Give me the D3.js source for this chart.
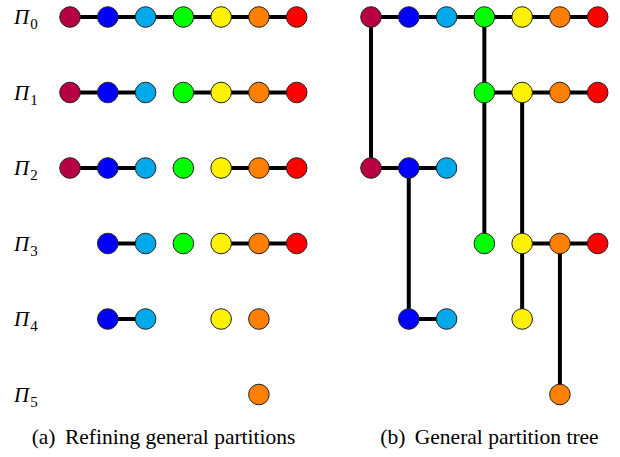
<!DOCTYPE html>
<html>
<head>
<meta charset="utf-8">
<script src="https://cdn.jsdelivr.net/npm/d3@7"></script>
<style>
  body { margin: 0; background: #fff; }
  svg { display: block; }
</style>
</head>
<body>
<div id="container"></div>
<script>
// seven elements, one colour each
const colours = ["#B70042", "#0000FF", "#00A9EA", "#00FF00", "#FFF200", "#FF8000", "#FF0000"];
const levels = ["0", "1", "2", "3", "4", "5"];

// (a) the parts of each partition, by element index
const refining = [
    [[0, 1, 2, 3, 4, 5, 6]],
    [[0, 1, 2], [3, 4, 5, 6]],
    [[0, 1, 2], [3], [4, 5, 6]],
    [[1, 2], [3], [4, 5, 6]],
    [[1, 2], [4], [5]],
    [[5]]
];

// (b) parts that appear at each level of the tree
const treeParts = [
    [[0, 1, 2, 3, 4, 5, 6]],
    [[3, 4, 5, 6]],
    [[0, 1, 2]],
    [[3], [4, 5, 6]],
    [[1, 2], [4]],
    [[5]]
];
// vertical links: element, from level, to level
const treeLinks = [
    {el: 0, from: 0, to: 2},
    {el: 3, from: 0, to: 1},
    {el: 3, from: 1, to: 3},
    {el: 4, from: 1, to: 3},
    {el: 1, from: 2, to: 4},
    {el: 4, from: 3, to: 4},
    {el: 5, from: 3, to: 5}
];

const captionTags = ["(a)", "(b)"];
const captionTexts = ["Refining general partitions", "General partition tree"];

const svg = d3.select("#container").append("svg")
    .attr("width", 620)
    .attr("height", 457);

const y = d3.scalePoint()
    .domain(levels)
    .range([17, 394.5]);

const xLeft = d3.scalePoint()
    .domain(d3.range(colours.length))
    .range([70, 296.7]);

const xRight = d3.scalePoint()
    .domain(d3.range(colours.length))
    .range([371, 597.7]);

// level labels
levels.forEach(l => {
    const t = svg.append("text")
        .attr("x", 14)
        .attr("y", y(l) + 7)
        .style("font-family", '"Liberation Serif"')
        .style("font-size", "21px")
        .style("font-style", "italic");
    t.append("tspan").text("Π");
    t.append("tspan")
        .style("font-style", "normal")
        .style("font-size", "15px")
        .attr("dx", 1)
        .attr("dy", 5)
        .text(l);
});

// captions
captionTags.forEach((tag, i) => {
    const t = svg.append("text")
        .attr("x", [163.5, 489.5][i])
        .attr("y", 444)
        .attr("text-anchor", "middle")
        .style("font-family", '"Liberation Serif"')
        .style("font-size", "21.5px");
    t.append("tspan").text(tag);
    t.append("tspan").attr("dx", 4).text(" " + captionTexts[i]);
});

function drawParts(g, x, parts) {
    parts.forEach((level, i) => {
        const cy = y(levels[i]);
        level.forEach(part => {
            if (part.length > 1) {
                g.append("line")
                    .attr("x1", x(part[0]))
                    .attr("x2", x(part[part.length - 1]))
                    .attr("y1", cy)
                    .attr("y2", cy)
                    .attr("stroke", "#000")
                    .attr("stroke-width", 4);
            }
        });
    });
}

function drawNodes(g, x, parts) {
    parts.forEach((level, i) => {
        const cy = y(levels[i]);
        g.selectAll(null)
            .data(level.flat())
            .join("circle")
            .attr("cx", d => x(d))
            .attr("cy", cy)
            .attr("r", 10.3)
            .attr("fill", d => colours[d])
            .attr("stroke", "#222")
            .attr("stroke-width", 1);
    });
}

// (a)
const left = svg.append("g");
drawParts(left, xLeft, refining);
drawNodes(left, xLeft, refining);

// (b)
const right = svg.append("g");
right.selectAll(null)
    .data(treeLinks)
    .join("line")
    .attr("x1", d => xRight(d.el))
    .attr("x2", d => xRight(d.el))
    .attr("y1", d => y(levels[d.from]))
    .attr("y2", d => y(levels[d.to]))
    .attr("stroke", "#000")
    .attr("stroke-width", 4);
drawParts(right, xRight, treeParts);
drawNodes(right, xRight, treeParts);
</script>
</body>
</html>
